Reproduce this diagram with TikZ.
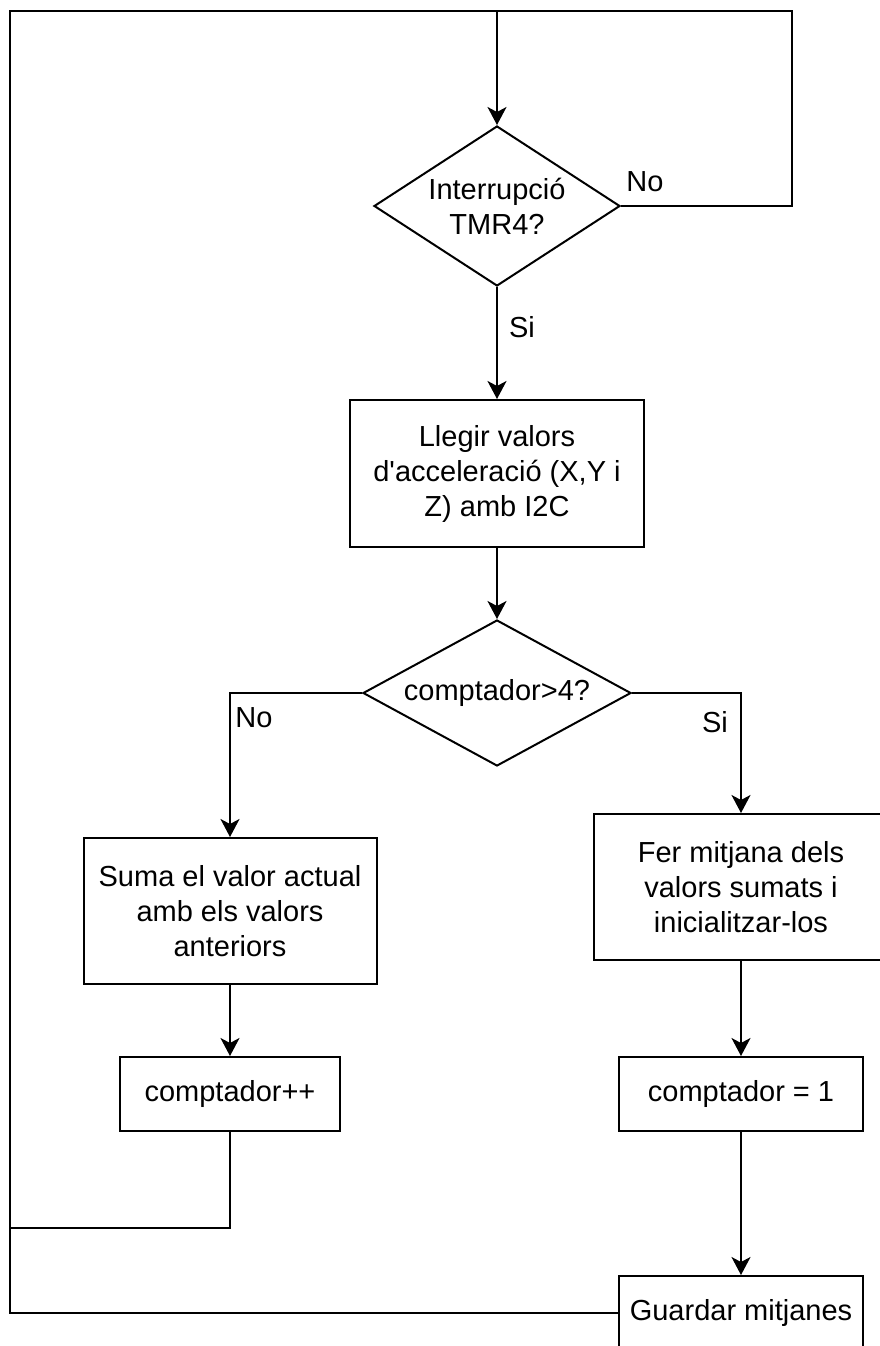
\documentclass[tikz,border=0pt]{standalone}
\usepackage{fontspec}
\setmainfont{Liberation Sans}
\usetikzlibrary{shapes.geometric,arrows.meta}
\tikzset{
  txt/.style={font=\fontsize{29}{35}\selectfont},
  proc/.style={txt, draw, rectangle, inner sep=0pt, align=center,
    minimum width=#1},
  test/.style={txt, draw, diamond, inner sep=0pt, align=center, aspect=1.6},
  flow/.style={-{Stealth[length=18pt,width=19pt,inset=5pt]}},
}

\begin{document}
\begin{tikzpicture}[x=1pt, y=-1pt, line width=2pt]
    \useasboundingbox (0,0) rectangle (879,1346);

    % decisions and steps
    \node [test, minimum width=246pt, minimum height=160pt] (tmr) at (497,206) {Interrupci\'o\\TMR4?};
    \node [proc=294pt, minimum height=147pt] (read) at (497,473.5) {Llegir valors\\d\textquotesingle acceleraci\'o (X,Y i\\Z) amb I2C};
    \node [test, minimum width=268pt, minimum height=146pt] (cnt) at (497,693) {comptador>4?};
    \node [proc=293pt, minimum height=146pt] (sum) at (230,911) {Suma el valor actual\\amb els valors\\anteriors};
    \node [proc=294pt, minimum height=146pt] (avg) at (741,887) {Fer mitjana dels\\valors sumats i\\inicialitzar-los};
    \node [proc=220pt, minimum height=74pt] (inc) at (230,1094) {comptador++};
    \node [proc=244pt, minimum height=74pt] (reset) at (741,1094) {comptador = 1};
    \node [proc=244pt, minimum height=74pt] (save) at (741,1313) {Guardar mitjanes};

    % loop corners
    \coordinate (top) at (497,11);
    \coordinate (tr) at (792,11);
    \coordinate (tl) at (9.5,11);
    \coordinate (jl) at (9.5,1228);

    % connectors
    \draw [flow] (top) -- (tmr.north);
    \draw (tmr.east) -| (tr) -- (top);
    \draw (save.west) -| (tl) -- (top);
    \draw (inc.south) |- (jl);
    \draw [flow] (tmr.south) -- (read.north);
    \draw [flow] (read.south) -- (cnt.north);
    \draw [flow] (cnt.west) -| (sum.north);
    \draw [flow] (cnt.east) -| (avg.north);
    \draw [flow] (sum.south) -- (inc.north);
    \draw [flow] (avg.south) -- (reset.north);
    \draw [flow] (reset.south) -- (save.north);

    % branch labels
    \node [txt] (no1) at (645,182) {No};
    \node [txt] (si1) at (522,327) {Si};
    \node [txt] (no2) at (254,718) {No};
    \node [txt] (si2) at (715,722) {Si};
\end{tikzpicture}
\end{document}
